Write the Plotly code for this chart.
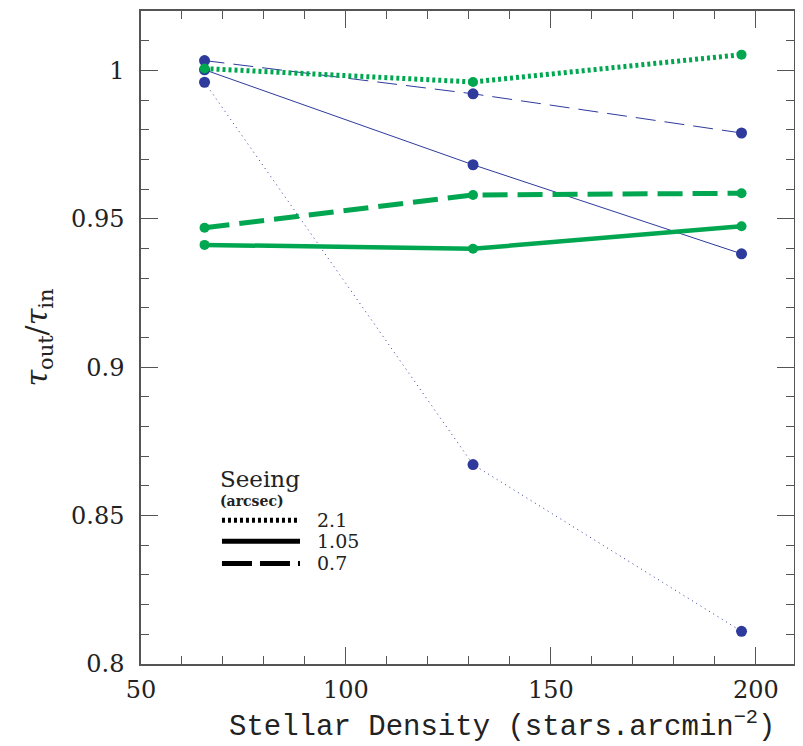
import plotly.graph_objects as go

density = [65.5, 131.0, 196.5]

# Blue series
blue_21 = [0.9960, 0.8672, 0.8110]
blue_105 = [1.0002, 0.9682, 0.9382]
blue_07 = [1.0033, 0.9921, 0.9789]
# Green series
green_21 = [1.0006, 0.9961, 1.0053]
green_105 = [0.9412, 0.9399, 0.9475]
green_07 = [0.9470, 0.9580, 0.9586]

legend_labels = ["2.1", "1.05", "0.7"]

BLUE = "#2E3A9C"
GREEN = "#00A650"

fig = go.Figure()

def add(y, color, width, dash, msize):
    fig.add_trace(go.Scatter(
        x=density, y=y, mode="lines+markers",
        line=dict(color=color, width=width, dash=dash),
        marker=dict(color=color, size=msize),
        showlegend=False, hoverinfo="skip"))

add(blue_21, BLUE, 1, "1px,4px", 11)
add(blue_105, BLUE, 1, "solid", 11)
add(blue_07, BLUE, 1, "20px,9px", 11)
add(green_21, GREEN, 5, "3px,3px", 10)
add(green_105, GREEN, 4.5, "solid", 10)
add(green_07, GREEN, 5, "25px,10px", 10)

serif = "DejaVu Serif, Liberation Serif, serif"

axis_common = dict(
    showline=True, linecolor="#555555", linewidth=1.5, mirror="ticks",
    ticks="inside", ticklen=17, tickwidth=1.3, tickcolor="#555555",
    showgrid=False, zeroline=False,
    tickfont=dict(family=serif, size=24, color="#222222"),
)

# page body has an 8px margin: size figure so the plot area lands where the reference has it
fig.update_layout(
    width=795, height=738,
    margin=dict(l=133, r=9, t=1, b=82),
    paper_bgcolor="white", plot_bgcolor="white",
    xaxis=dict(range=[50, 209.3], dtick=50, tick0=50,
               minor=dict(dtick=10, ticks="inside", ticklen=8, tickcolor="#555555", tickwidth=1.2),
               ticklabelstandoff=3,
               **axis_common),
    yaxis=dict(range=[0.8, 1.02], dtick=0.05, tick0=0.8,
               minor=dict(dtick=0.01, ticks="inside", ticklen=8, tickcolor="#555555", tickwidth=1.2),
               title=dict(text="<i>τ</i><sub>out</sub>/<i>τ</i><sub>in</sub>",
                          font=dict(family=serif, size=30, color="#222222"), standoff=15),
               ticklabelstandoff=10,
               **axis_common),
)

# x-axis title, placed as in the reference (slightly right of centre)
fig.add_annotation(xref="paper", yref="paper", x=0.553, y=-0.094,
                   text="Stellar Density (stars.arcmin<sup>−2</sup>)",
                   showarrow=False, xanchor="center", yanchor="middle",
                   font=dict(family="Liberation Mono", size=29, color="#222222"))

# Legend drawn manually in black
legend_dashes = ["3px,3px", "solid", "30px,8px"]
legend_y = [0.220, 0.188, 0.154]
for lab, dsh, yy in zip(legend_labels, legend_dashes, legend_y):
    fig.add_shape(type="line", xref="paper", yref="paper",
                  x0=0.124, x1=0.2435, y0=yy, y1=yy,
                  line=dict(color="black", width=5, dash=dsh))
    fig.add_annotation(xref="paper", yref="paper", x=0.266, y=yy, text=lab,
                       showarrow=False, xanchor="left", yanchor="middle",
                       font=dict(family=serif, size=19, color="#222222"))

fig.add_annotation(xref="paper", yref="paper", x=0.118, y=0.283, text="Seeing",
                   showarrow=False, xanchor="left", yanchor="middle",
                   font=dict(family=serif, size=23, color="#222222"))
fig.add_annotation(xref="paper", yref="paper", x=0.118, y=0.250, text="<b>(arcsec)</b>",
                   showarrow=False, xanchor="left", yanchor="middle",
                   font=dict(family=serif, size=14, color="#222222"))

fig.write_html("out.html")
